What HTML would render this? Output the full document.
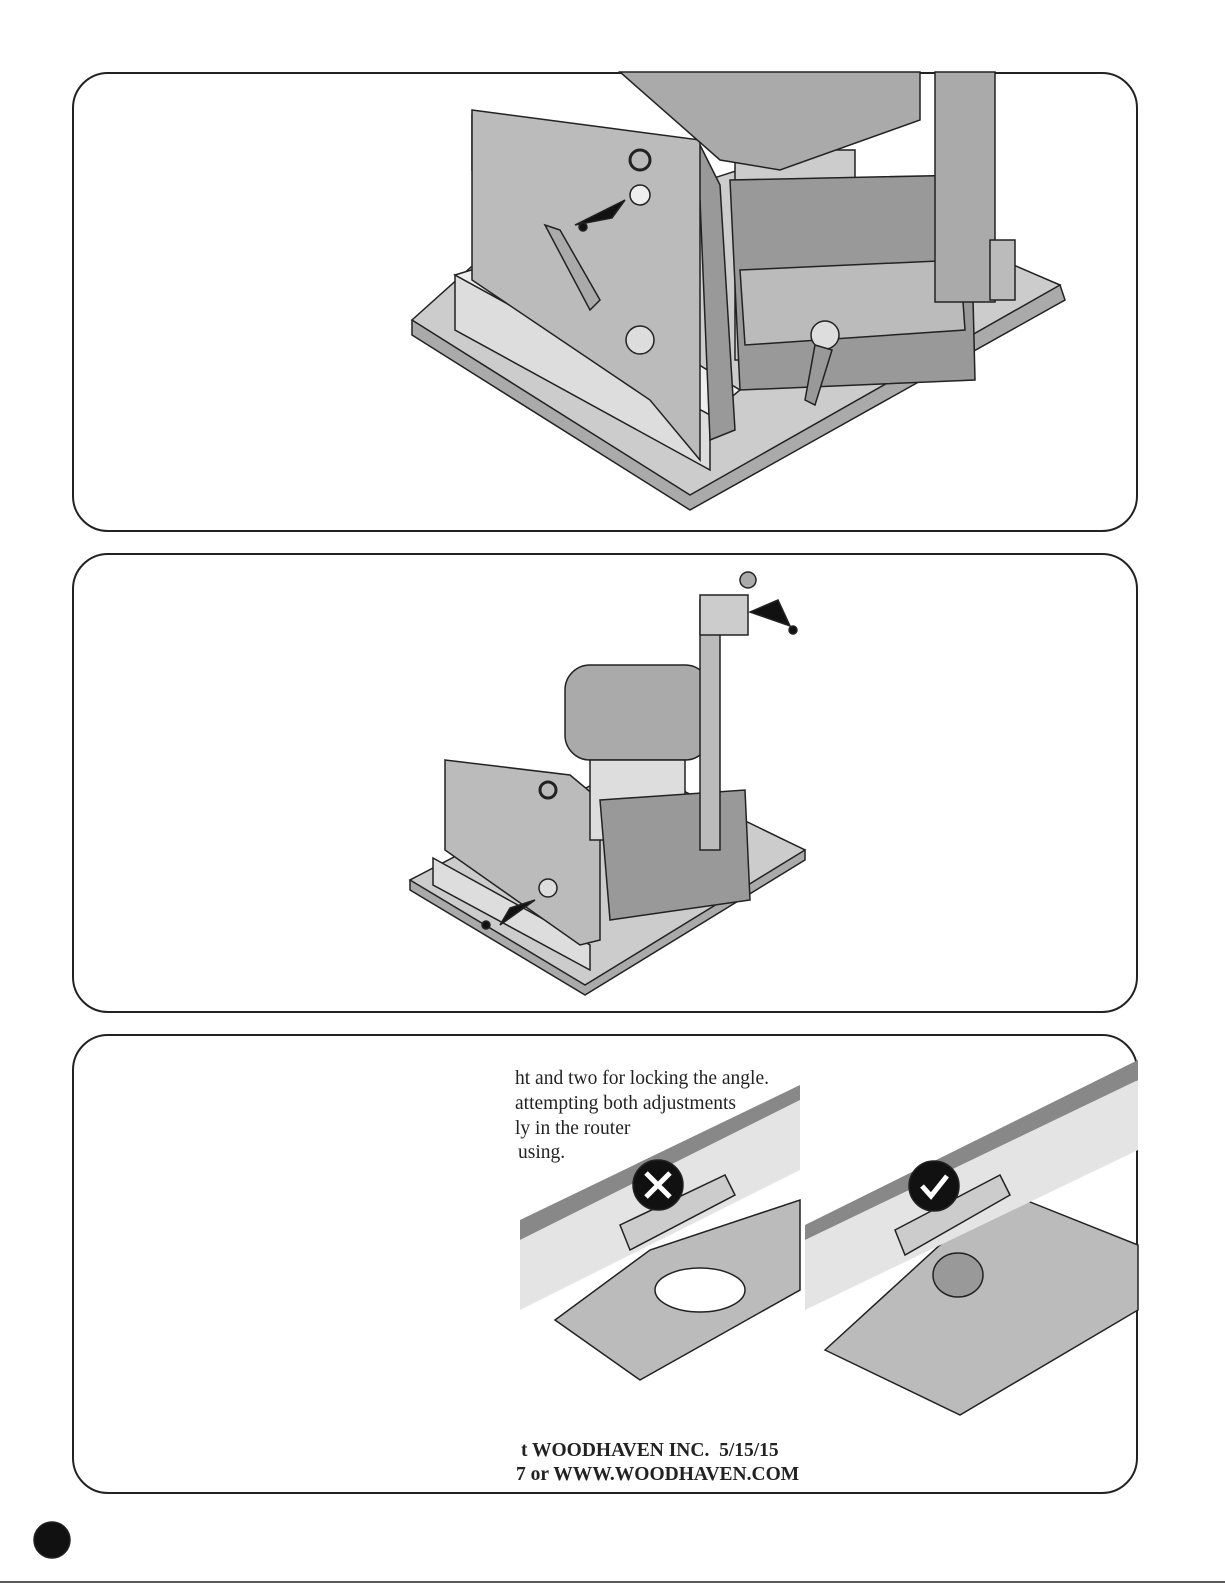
<!DOCTYPE html>
<html><head><meta charset="utf-8"><style>
body{margin:0;background:#fff;width:1225px;height:1585px;overflow:hidden;position:relative;font-family:"Liberation Serif",serif}
.p{position:absolute;left:72px;width:1066px;height:460px;border:2px solid #222;border-radius:36px;box-sizing:border-box}
.t{position:absolute;font-size:19.5px;color:#222;white-space:nowrap}
</style></head><body>
<div class="p" style="top:72px"></div>
<div class="p" style="top:553px"></div>
<div class="p" style="top:1034px"></div>
<svg width="1225" height="1585" style="position:absolute;left:0;top:0" stroke="#222" stroke-width="1.5">
<!-- panel 1 -->
<polygon points="412,335 690,510 1065,300 1060,285 770,170 412,320" fill="#aaa"/>
<polygon points="412,320 690,495 1060,285 770,160 490,250" fill="#ccc"/>
<polygon points="455,275 710,415 710,470 455,330" fill="#ddd"/>
<polygon points="455,275 520,255 740,390 710,415" fill="#eee"/>
<polygon points="472,115 700,145 720,185 735,430 710,440 700,200 672,150 472,170" fill="#999"/>
<polygon points="472,110 700,140 700,460 650,400 472,280" fill="#bbb"/>
<rect x="735" y="150" width="120" height="210" fill="#ccc"/>
<polygon points="620,72 920,72 920,120 780,170 720,160" fill="#aaa"/>
<polygon points="730,180 970,175 975,380 740,390" fill="#999"/>
<polygon points="740,270 960,260 965,330 745,345" fill="#bbb"/>
<rect x="935" y="72" width="60" height="230" fill="#aaa"/>
<rect x="990" y="240" width="25" height="60" fill="#bbb"/>
<circle cx="640" cy="195" r="10" fill="#eee"/><circle cx="640" cy="160" r="10" fill="none" stroke-width="3"/>
<polygon points="575,225 625,200 612,218" fill="#111"/><circle cx="583" cy="227" r="4" fill="#111"/>
<polygon points="545,225 560,230 600,300 590,310" fill="#aaa"/>
<circle cx="640" cy="340" r="14" fill="#ddd"/><circle cx="825" cy="335" r="14" fill="#ddd"/>
<polygon points="815,345 832,350 815,405 805,400" fill="#999"/>
<!-- panel 2 -->
<polygon points="410,890 585,995 805,860 805,850 630,770 410,880" fill="#aaa"/>
<polygon points="410,880 585,985 805,850 630,765" fill="#ccc"/>
<polygon points="433,858 590,945 590,970 433,885" fill="#ddd"/>
<polygon points="445,760 570,775 600,800 600,940 580,945 445,850" fill="#bbb"/>
<rect x="565" y="665" width="145" height="95" rx="25" fill="#aaa"/>
<rect x="590" y="760" width="95" height="80" fill="#ddd"/>
<polygon points="600,800 745,790 750,900 610,920" fill="#999"/>
<rect x="700" y="600" width="20" height="250" fill="#bbb"/>
<rect x="700" y="595" width="48" height="40" fill="#ccc"/>
<circle cx="748" cy="580" r="8" fill="#aaa"/>
<polygon points="750,612 790,626 778,600" fill="#111"/><circle cx="793" cy="630" r="4" fill="#111"/>
<polygon points="500,925 535,900 510,908" fill="#111"/><circle cx="486" cy="925" r="4" fill="#111"/>
<circle cx="548" cy="888" r="9" fill="#ddd"/><circle cx="548" cy="790" r="8" fill="none" stroke-width="3"/>
<!-- panel 3 -->
<polygon points="555,1320 640,1380 800,1290 800,1200 650,1250" fill="#bbb"/>
<polygon points="825,1350 960,1415 1138,1310 1138,1245 1000,1190" fill="#bbb"/>
<polygon points="520,1240 800,1100 800,1170 520,1310" fill="#e4e4e4" stroke="none"/>
<polygon points="520,1220 800,1085 800,1100 520,1240" fill="#888" stroke="none"/>
<polygon points="805,1240 1138,1080 1138,1150 805,1310" fill="#e4e4e4" stroke="none"/>
<polygon points="805,1225 1138,1060 1138,1080 805,1240" fill="#888" stroke="none"/>
<polygon points="620,1225 725,1175 735,1195 630,1250" fill="#ccc"/>
<polygon points="895,1230 1000,1175 1010,1195 905,1255" fill="#ccc"/>
<ellipse cx="700" cy="1290" rx="45" ry="22" fill="#fff"/>
<ellipse cx="958" cy="1275" rx="25" ry="22" fill="#999"/>
<circle cx="658" cy="1185" r="25" fill="#111"/>
<path d="M646,1173 L670,1197 M670,1173 L646,1197" stroke="#fff" stroke-width="5"/>
<circle cx="934" cy="1186" r="25" fill="#111"/>
<path d="M922,1186 L931,1196 L947,1176" stroke="#fff" stroke-width="5" fill="none"/>
<circle cx="52" cy="1540" r="18" fill="#111"/>
<line x1="0" y1="1582" x2="1225" y2="1582"/>
</svg>
<div class="t" style="left:515px;top:1068px">ht and two for locking the angle.</div>
<div class="t" style="left:515px;top:1093px">attempting both adjustments</div>
<div class="t" style="left:515px;top:1118px">ly in the router</div>
<div class="t" style="left:518px;top:1142px">using.</div>
<div class="t" style="left:521px;top:1440px;font-weight:bold">t WOODHAVEN INC.&nbsp; 5/15/15</div>
<div class="t" style="left:516px;top:1464px;font-weight:bold">7 or WWW.WOODHAVEN.COM</div>
</body></html>
